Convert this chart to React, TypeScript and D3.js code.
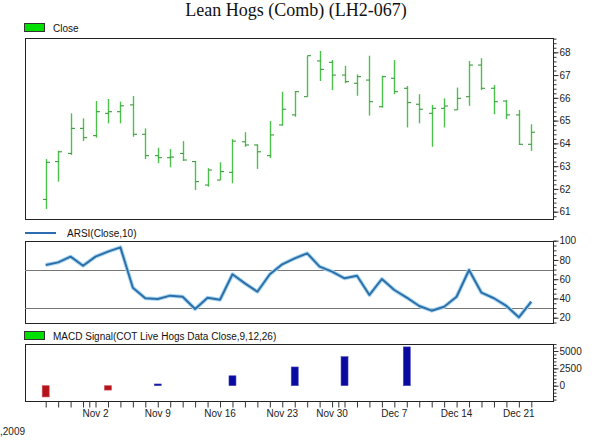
import React, { useEffect, useRef } from "react";
import * as d3 from "d3";

// trading days shown on the chart (Thanksgiving Nov 26 has no bar)
const dates = [
  "Oct 27", "Oct 28", "Oct 29", "Oct 30",
  "Nov 2", "Nov 3", "Nov 4", "Nov 5", "Nov 6",
  "Nov 9", "Nov 10", "Nov 11", "Nov 12", "Nov 13",
  "Nov 16", "Nov 17", "Nov 18", "Nov 19", "Nov 20",
  "Nov 23", "Nov 24", "Nov 25", "Nov 27",
  "Nov 30", "Dec 1", "Dec 2", "Dec 3", "Dec 4",
  "Dec 7", "Dec 8", "Dec 9", "Dec 10", "Dec 11",
  "Dec 14", "Dec 15", "Dec 16", "Dec 17", "Dec 18",
  "Dec 21", "Dec 22",
];

const opens = [61.54, 63.2, 63.56, 64.66, 64.34, 65.32, 65.39, 65.69, 64.4, 63.46, 63.37, 63.56, 63.2, 62.17, 62.39, 62.73, 64.07, 63.93, 63.46, 64.81, 65.25, 66.05, 67.62, 67.56, 67.0, 66.64, 66.78, 65.61, 66.86, 66.42, 65.72, 65.32, 65.54, 65.47, 66.05, 67.44, 66.42, 65.86, 65.25, 63.96];
const highs = [63.31, 63.68, 65.32, 65.1, 65.86, 65.95, 65.83, 66.08, 64.66, 63.81, 63.75, 64.1, 63.23, 62.91, 63.17, 64.19, 64.49, 63.96, 64.98, 66.27, 66.3, 67.85, 68.06, 67.66, 67.41, 67.03, 67.85, 66.97, 67.66, 66.52, 66.16, 65.69, 65.98, 66.45, 67.62, 67.74, 66.56, 65.9, 65.47, 64.84];
const lows = [61.12, 62.32, 63.49, 64.1, 64.25, 64.88, 64.88, 64.29, 63.31, 63.13, 62.95, 63.23, 61.95, 62.1, 62.39, 62.25, 63.85, 62.88, 63.35, 64.78, 65.17, 66.05, 66.74, 66.34, 66.64, 66.09, 65.22, 65.57, 66.16, 64.7, 64.88, 63.85, 64.7, 65.47, 65.65, 66.34, 65.28, 65.07, 63.93, 63.67];
const closes = [63.17, 63.63, 64.66, 64.25, 65.39, 65.39, 65.65, 64.4, 63.46, 63.37, 63.4, 63.27, 62.32, 62.83, 62.76, 64.1, 63.93, 63.63, 64.37, 65.5, 66.27, 67.85, 67.25, 67.0, 66.71, 66.93, 65.83, 66.93, 66.27, 65.79, 65.5, 65.54, 65.64, 65.98, 67.44, 66.42, 65.83, 65.25, 63.96, 64.49];

const rsi = [74.8, 77.5, 83.4, 74, 83.4, 88.6, 93.1, 51.2, 40.2, 39.4, 42.9, 41.8, 29, 40.8, 38.7, 65.1, 55.7, 47, 65.1, 75.5, 81.7, 86.9, 73, 67.8, 60.9, 63.6, 43.6, 60.2, 48.8, 40.8, 32.2, 27.3, 31.4, 41.8, 69.6, 46, 40.2, 32.2, 20.4, 36.6];

// weekly COT MACD signal
const macdDates = ["Oct 27", "Nov 3", "Nov 9", "Nov 17", "Nov 24", "Dec 1", "Dec 8"];
const macdValues = [-1620, -630, 250, 1430, 2700, 4180, 5590];

const xLabels = ["Nov 2", "Nov 9", "Nov 16", "Nov 23", "Nov 30", "Dec 7", "Dec 14", "Dec 21"];
const monthBreaks = [3.5, 23.5];

const priceTicks = [61, 62, 63, 64, 65, 66, 67, 68];
const rsiTicks = [20, 40, 60, 80, 100];
const macdTicks = [0, 2500, 5000];

const W = 600;
const H = 441;
const left = 25;
const right = 553;
const font = "'Liberation Sans', Arial, sans-serif";

export default function App() {
  const ref = useRef<SVGSVGElement>(null);

  useEffect(() => {
    const svg = d3.select(ref.current);
    svg.selectAll("*").remove();

    const x = d3.scaleLinear().domain([0, dates.length - 1]).range([45.7, 531.3]);
    const idx = (d: string) => dates.indexOf(d);

    // panels
    const pTop = 38, pBot = 219;
    const rTop = 241, rBot = 323;
    const mTop = 344, mBot = 401;

    const yP = d3.scaleLinear().domain([61, 68]).range([211.7, 52.3]);
    const yR = d3.scaleLinear().domain([20, 100]).range([317.7, 240.7]);
    const yM = d3.scaleLinear().domain([0, 5000]).range([385.7, 351]);

    svg.append("rect").attr("width", W).attr("height", H).attr("fill", "#fff");

    svg.append("text")
      .attr("x", 296).attr("y", 16)
      .attr("text-anchor", "middle")
      .attr("font-family", "'Liberation Serif', 'Times New Roman', serif")
      .attr("font-size", 18)
      .attr("fill", "#111")
      .text("Lean Hogs (Comb) (LH2-067)");

    const frame = (t: number, b: number) =>
      svg.append("rect")
        .attr("x", left + 0.5).attr("y", t + 0.5)
        .attr("width", right - left).attr("height", b - t)
        .attr("fill", "none").attr("stroke", "#222");

    frame(pTop, pBot);
    frame(rTop, rBot);
    frame(mTop, mBot);

    // legends
    const legendBox = (yy: number, label: string) => {
      svg.append("rect").attr("x", 24.5).attr("y", yy - 8.5).attr("width", 20).attr("height", 8)
        .attr("fill", "#00e000").attr("stroke", "#333");
      svg.append("text").attr("x", 53).attr("y", yy).attr("font-family", font)
        .attr("font-size", 10).attr("fill", "#111").text(label);
    };
    legendBox(32, "Close");
    legendBox(340, "MACD Signal(COT Live Hogs Data Close,9,12,26)");
    svg.append("line").attr("x1", 25).attr("x2", 56).attr("y1", 233).attr("y2", 233)
      .attr("stroke", "#2b6cb0").attr("stroke-width", 2);
    svg.append("text").attr("x", 67).attr("y", 237).attr("font-family", font)
      .attr("font-size", 10).attr("fill", "#111").text("ARSI(Close,10)");

    // right axes with minor + major ticks
    const rightAxis = (scale: d3.ScaleLinear<number, number>, minor: number[], major: number[], fmt: (d: number) => string) => {
      const gMinor = svg.append("g").attr("transform", `translate(${right + 0.5},0)`)
        .call(d3.axisRight(scale).tickValues(minor).tickSize(3).tickSizeOuter(0).tickFormat(() => ""));
      gMinor.select(".domain").remove();
      const gMajor = svg.append("g").attr("transform", `translate(${right + 0.5},0)`)
        .call(d3.axisRight(scale).tickValues(major).tickSize(5).tickPadding(1).tickSizeOuter(0).tickFormat((d) => fmt(+d)));
      gMajor.select(".domain").remove();
      [gMinor, gMajor].forEach((g) => {
        g.selectAll("line").attr("stroke", "#333");
        g.selectAll("text").attr("font-family", font).attr("font-size", 10).attr("fill", "#222");
      });
    };
    rightAxis(yP, d3.range(60.8, 68.61, 0.2), priceTicks, (d) => String(d));
    rightAxis(yR, d3.range(15, 101, 5), rsiTicks, (d) => String(d));
    rightAxis(yM, d3.range(-2000, 6001, 500), macdTicks, (d) => String(d));

    // price OHLC bars
    const bars = svg.append("g").attr("stroke", "#4cc24c").attr("stroke-width", 1.4);
    dates.forEach((_, i) => {
      const cx = Math.round(x(i)) + 0.5;
      bars.append("line").attr("x1", cx).attr("x2", cx).attr("y1", yP(highs[i])).attr("y2", yP(lows[i]));
      bars.append("line").attr("x1", cx - 3.5).attr("x2", cx).attr("y1", yP(opens[i])).attr("y2", yP(opens[i]))
        .attr("stroke", "#2f8f2f").attr("stroke-width", 1);
      bars.append("line").attr("x1", cx).attr("x2", cx + 3.5).attr("y1", yP(closes[i])).attr("y2", yP(closes[i]))
        .attr("stroke", "#2f8f2f").attr("stroke-width", 1);
    });

    // RSI guide lines and line
    [70, 30].forEach((v) => {
      svg.append("line").attr("x1", left).attr("x2", right)
        .attr("y1", Math.round(yR(v)) + 0.5).attr("y2", Math.round(yR(v)) + 0.5)
        .attr("stroke", "#777");
    });
    const line = d3.line<number>().x((_, i) => x(i)).y((d) => yR(d));
    svg.append("path").datum(rsi).attr("d", line)
      .attr("fill", "none").attr("stroke", "#a8d8f4").attr("stroke-width", 4).attr("stroke-linejoin", "round");
    svg.append("path").datum(rsi).attr("d", line)
      .attr("fill", "none").attr("stroke", "#2f6fa8").attr("stroke-width", 2).attr("stroke-linejoin", "round");

    // MACD histogram
    svg.append("g").selectAll("rect").data(macdValues).join("rect")
      .attr("x", (_, i) => x(idx(macdDates[i])) - 3.5)
      .attr("width", 7)
      .attr("y", (d) => Math.min(yM(d), yM(0)))
      .attr("height", (d) => Math.abs(yM(d) - yM(0)))
      .attr("fill", (d) => (d < 0 ? "#b5121b" : "#0a0aa0"))
      .attr("stroke", (d) => (d < 0 ? "#c85058" : "#4a4ac0"))
      .attr("stroke-width", 0.6);

    // x axis
    const tickPos = d3.range(dates.length).concat(monthBreaks);
    const gx = svg.append("g").attr("transform", `translate(0,${mBot + 0.5})`)
      .call(d3.axisBottom(x).tickValues(tickPos).tickSize(6).tickSizeOuter(0).tickFormat(() => ""));
    gx.select(".domain").remove();
    gx.selectAll("line").attr("stroke", "#333");
    svg.append("g").selectAll("text").data(xLabels).join("text")
      .attr("x", (d) => x(idx(d)))
      .attr("y", 417)
      .attr("text-anchor", "middle")
      .attr("font-family", font).attr("font-size", 10).attr("fill", "#222")
      .text((d) => d);

    svg.append("text").attr("x", 0).attr("y", 435).attr("font-family", font)
      .attr("font-size", 10).attr("fill", "#222").text(",2009");
  }, []);

  return (
    <svg
      ref={ref}
      width={W}
      height={H}
      style={{ position: "absolute", left: 0, top: 0, display: "block" }}
    />
  );
}
